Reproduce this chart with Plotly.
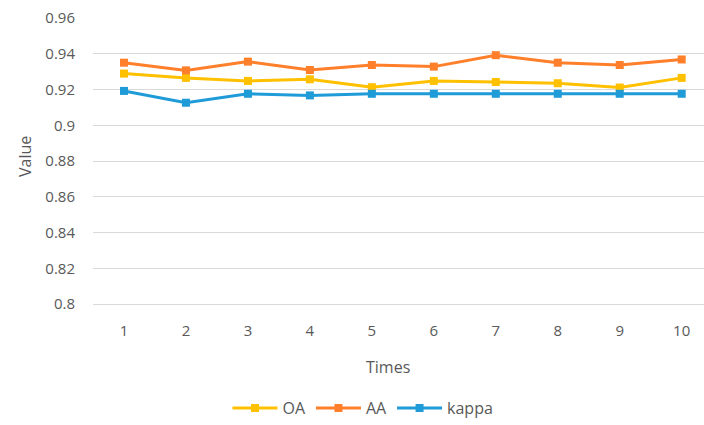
import plotly.graph_objects as go

times = [1, 2, 3, 4, 5, 6, 7, 8, 9, 10]
oa = [0.9289, 0.9265, 0.9248, 0.9257, 0.9213, 0.9248, 0.9242, 0.9235, 0.9211, 0.9265]
aa = [0.9350, 0.9307, 0.9356, 0.9309, 0.9337, 0.9328, 0.9392, 0.9350, 0.9337, 0.9368]
kappa = [0.9192, 0.9126, 0.9176, 0.9167, 0.9176, 0.9176, 0.9176, 0.9176, 0.9176, 0.9176]
y_ticks = [0.8, 0.82, 0.84, 0.86, 0.88, 0.9, 0.92, 0.94, 0.96]
y_labels = ["0.8", "0.82", "0.84", "0.86", "0.88", "0.9", "0.92", "0.94", "0.96"]

series = [("OA", oa, "#FFC000"), ("AA", aa, "#FF7F2A"), ("kappa", kappa, "#1F9BD8")]

fig = go.Figure()
for name, vals, col in series:
    fig.add_trace(go.Scatter(
        x=times, y=vals, name=name, mode="lines+markers",
        line=dict(color=col, width=3),
        marker=dict(symbol="square", size=8, color=col),
    ))

font_col = "#595959"
pw, ph = 704 - 93, 425 - 18 - 119
fig.update_layout(
    width=704, height=425,
    margin=dict(l=93, r=0, t=18, b=119),
    paper_bgcolor="white", plot_bgcolor="white",
    font=dict(family="Open Sans", size=15, color=font_col),
    showlegend=True,
    legend=dict(orientation="h", x=(363 - 93) / pw, xanchor="center",
                y=-(411 - 306) / ph, yanchor="middle",
                font=dict(size=16, color=font_col), itemwidth=45),
    xaxis=dict(range=[0.5, 10.36], tickmode="array", tickvals=times,
               ticktext=[str(t) for t in times], showgrid=False, zeroline=False,
               showline=True, linecolor="#D9D9D9", linewidth=1, ticks="",
               ticklabelstandoff=13, tickfont=dict(size=15, color=font_col)),
    yaxis=dict(range=[0.8, 0.96], tickmode="array", tickvals=y_ticks, ticktext=y_labels,
               showgrid=True, gridcolor="#D9D9D9", gridwidth=1, zeroline=False,
               ticks="", ticklabelstandoff=17, tickfont=dict(size=15, color=font_col)),
    annotations=[
        dict(text="Value", xref="paper", yref="paper", x=(25 - 93) / pw, y=(306 - 158) / ph,
             xanchor="center", yanchor="middle", showarrow=False,
             textangle=-90, font=dict(size=16, color=font_col)),
        dict(text="Times", xref="paper", yref="paper", x=(388 - 93) / pw, y=(306 - 369) / ph,
             xanchor="center", yanchor="middle", showarrow=False,
             font=dict(size=16, color=font_col)),
    ],
)

fig.write_html("out.html")
